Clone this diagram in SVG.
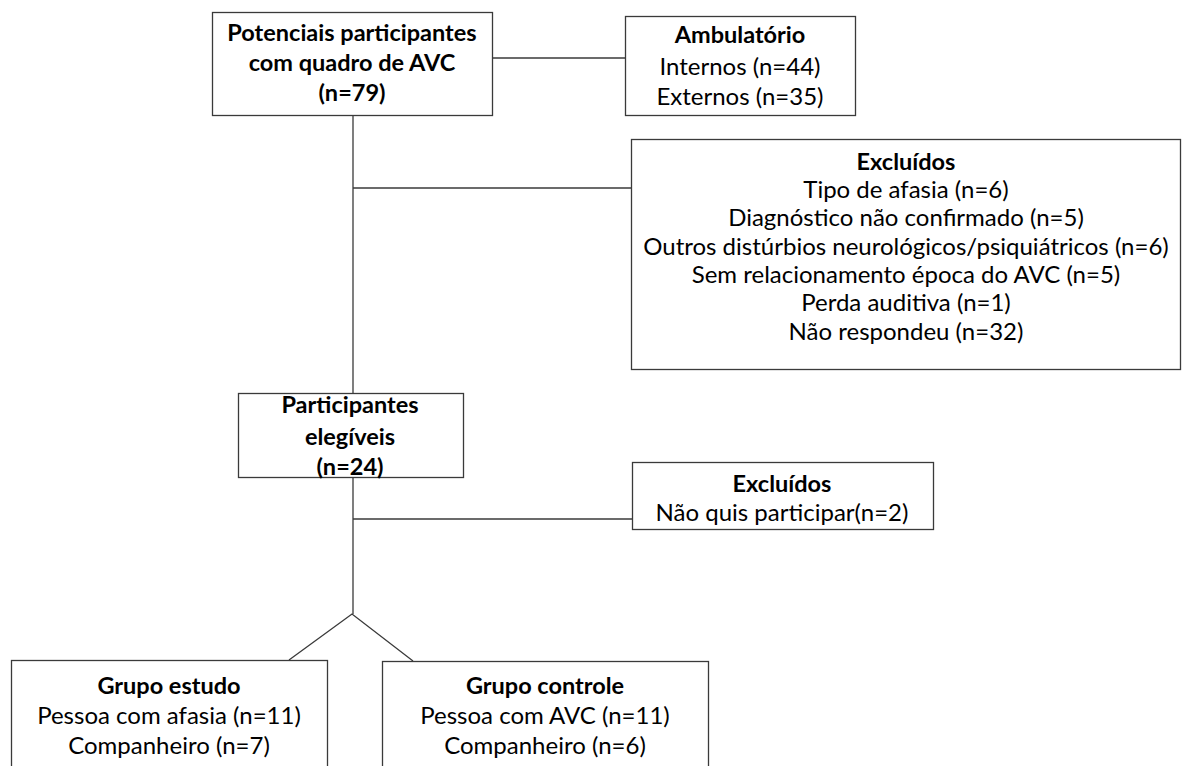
<svg xmlns="http://www.w3.org/2000/svg" width="1185" height="766" viewBox="0 0 1185 766">
<style>
.box{fill:#fff;stroke:#3a3a3a;stroke-width:1.3}
.ln{stroke:#3a3a3a;stroke-width:1.3;fill:none}
text{font-family:Lato,"Liberation Sans",sans-serif;font-size:24px;fill:#000;text-anchor:middle}
.b{font-weight:bold;font-size:23.5px}
</style>
<rect width="1185" height="766" fill="#fff"/>
<g id="connectors">
<line class="ln" x1="492" y1="58" x2="625" y2="58"/>
<line class="ln" x1="353" y1="116" x2="353" y2="393"/>
<line class="ln" x1="353" y1="188" x2="631" y2="188"/>
<line class="ln" x1="353" y1="477" x2="353" y2="614"/>
<line class="ln" x1="353" y1="519" x2="632" y2="519"/>
<polyline class="ln" points="289,660 352,614 413,661"/>
</g>
<g id="n1">
<rect class="box" x="212.5" y="12.5" width="280" height="103"/>
<text class="b" x="352" y="41">Potenciais participantes</text>
<text class="b" x="352" y="71">com quadro de AVC</text>
<text class="b" x="352" y="101">(n=79)</text>
</g>
<g id="n2">
<rect class="box" x="625.5" y="16.5" width="230" height="99"/>
<text class="b" x="740" y="43">Ambulatório</text>
<text x="740" y="75">Internos (n=44)</text>
<text x="740" y="105">Externos (n=35)</text>
</g>
<g id="n3">
<rect class="box" x="631.5" y="139.5" width="549" height="230"/>
<text class="b" x="906" y="170">Excluídos</text>
<text x="906" y="198">Tipo de afasia (n=6)</text>
<text x="906" y="226">Diagnóstico não confirmado (n=5)</text>
<text x="906" y="255">Outros distúrbios neurológicos/psiquiátricos (n=6)</text>
<text x="906" y="283">Sem relacionamento época do AVC (n=5)</text>
<text x="906" y="311">Perda auditiva (n=1)</text>
<text x="906" y="340">Não respondeu (n=32)</text>
</g>
<g id="n4">
<rect class="box" x="238.5" y="393.5" width="225" height="84"/>
<text class="b" x="350" y="413">Participantes</text>
<text class="b" x="350" y="445">elegíveis</text>
<text class="b" x="350" y="475">(n=24)</text>
</g>
<g id="n5">
<rect class="box" x="632.5" y="462.5" width="301" height="67"/>
<text class="b" x="782" y="492">Excluídos</text>
<text x="782" y="521">Não quis participar(n=2)</text>
</g>
<g id="n6">
<rect class="box" x="11.5" y="660.5" width="316" height="120"/>
<text class="b" x="169" y="694">Grupo estudo</text>
<text x="169" y="724">Pessoa com afasia (n=11)</text>
<text x="169" y="754">Companheiro (n=7)</text>
</g>
<g id="n7">
<rect class="box" x="382.5" y="661.5" width="326" height="120"/>
<text class="b" x="545" y="694">Grupo controle</text>
<text x="545" y="724">Pessoa com AVC (n=11)</text>
<text x="545" y="754">Companheiro (n=6)</text>
</g>
</svg>
